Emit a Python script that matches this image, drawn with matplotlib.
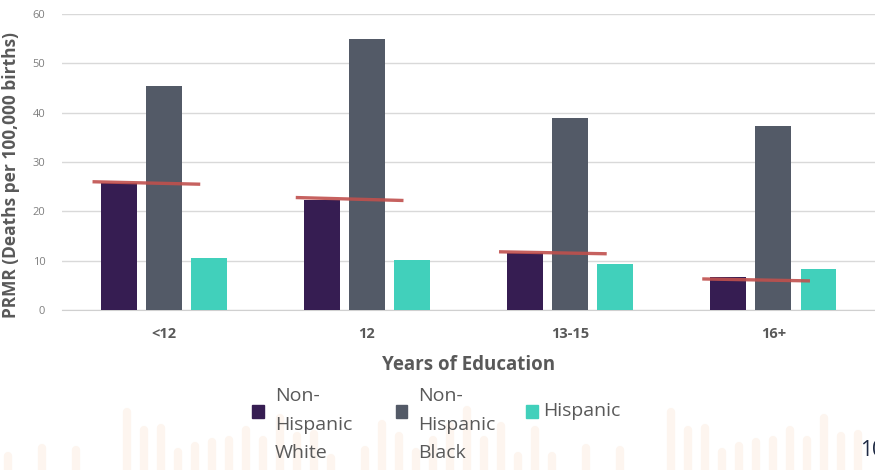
import numpy as np
import matplotlib.pyplot as plt
from matplotlib.patches import Rectangle
from matplotlib.lines import Line2D

plt.rcParams['font.family'] = ['Open Sans', 'DejaVu Sans']

# pregnancy-related mortality ratio by years of education
categories = ['<12', '12', '13-15', '16+']
series_names = ['Non-\nHispanic\nWhite', 'Non-\nHispanic\nBlack', 'Hispanic']
white = [25.7, 22.3, 11.5, 6.6]
black = [45.5, 55.0, 39.0, 37.3]
hispanic = [10.6, 10.2, 9.4, 8.3]
# hand-drawn trend marks over each group (start, end)
trend_start = [26.0, 22.8, 11.8, 6.3]
trend_end = [25.5, 22.2, 11.4, 5.9]

# heights (px) of the faint decorative strokes along the slide bottom
deco_heights = [14, 0, 22, 0, 20, 0, 0, 58, 40, 42, 18, 24, 28, 30, 40, 30,
                52, 34, 36, 12, 0, 20, 46, 34, 18, 30, 44, 60, 30, 44, 14, 40]

colors = ['#361d52', '#535a67', '#41d0bb']
red = '#c0504d'

fig = plt.figure(figsize=(8.75, 4.7), dpi=100)
W, H = 875, 470

# decorative background strokes
for k, x0 in enumerate(range(8, W, 17)):
    h = deco_heights[k % len(deco_heights)]
    if h == 0:
        continue
    fig.add_artist(Line2D([x0 / W, x0 / W], [-0.02, h / H], lw=6,
                          color='#fdf5ef', solid_capstyle='round',
                          transform=fig.transFigure, zorder=0))

ax = fig.add_axes([0.0709, 0.3404, 0.9291, 0.6298])
ax.patch.set_alpha(0)

x = np.arange(len(categories))
w = 0.177
step = 0.222
for i, vals in enumerate([white, black, hispanic]):
    ax.bar(x + (i - 1) * step, vals, width=w, color=colors[i], zorder=3)

for xi, s, e in zip(x, trend_start, trend_end):
    ax.plot([xi - 0.35, xi + 0.18], [s, e], color=red, lw=2.4, alpha=0.9,
            solid_capstyle='butt', zorder=4)

ax.set_xlim(-0.5, len(categories) - 0.5)
ax.set_ylim(0, 60)
ax.set_yticks(range(0, 61, 10))
ax.yaxis.grid(True, color='#d9d9d9', lw=1)
ax.set_axisbelow(True)
for sp in ['top', 'right', 'left']:
    ax.spines[sp].set_visible(False)
ax.spines['bottom'].set_color('#d0d0d0')
ax.tick_params(axis='y', length=0, labelsize=8, labelcolor='#7f7f7f', pad=12)
ax.tick_params(axis='x', length=0, labelsize=10.5, labelcolor='#595959', pad=12)
ax.set_xticks(x)
ax.set_xticklabels(categories, fontweight='bold')
ax.set_xlabel('Years of Education', fontsize=13.5, fontweight='bold',
              color='#595959', labelpad=10)
ax.set_ylabel('PRMR (Deaths per 100,000 births)', fontsize=12.5,
              fontweight='bold', color='#595959')
ax.yaxis.set_label_coords(-0.052, 0.455)

# legend laid out by hand
leg_x = [0.288, 0.452, 0.601]
for name, c, lx in zip(series_names, colors, leg_x):
    fig.add_artist(Rectangle((lx, 0.111), 0.0135, 0.027, color=c,
                             transform=fig.transFigure))
    if '\n' in name:
        fig.text(lx + 0.026, 0.176, name, fontsize=14, color='#595959',
                 va='top', ha='left', linespacing=1.75)
    else:
        fig.text(lx + 0.02, 0.125, name, fontsize=14, color='#595959',
                 va='center', ha='left')

fig.text(0.983, 0.03, '10', fontsize=15, color='#1f2a44', ha='left')

fig.savefig('out.png', dpi=100, facecolor='white')
